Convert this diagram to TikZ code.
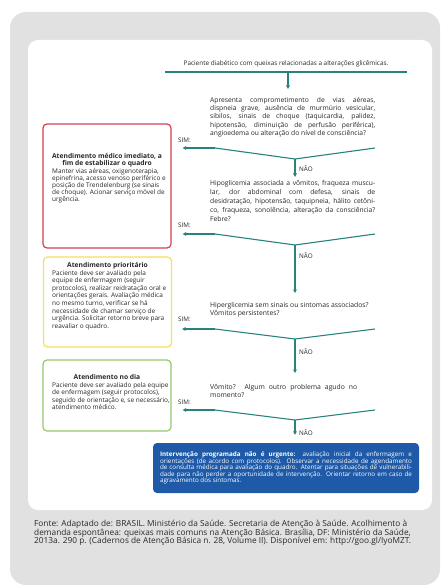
\documentclass[tikz,border=0pt]{standalone}
\usepackage{fontspec}
\setmainfont{Open Sans}
\usetikzlibrary{arrows.meta}
\definecolor{flowteal}{RGB}{40,132,122}
\definecolor{boxred}{RGB}{214,64,80}
\definecolor{boxyellow}{RGB}{244,224,90}
\definecolor{boxgreen}{RGB}{150,200,110}
\definecolor{boxblue}{RGB}{30,90,168}
\definecolor{panelgray}{RGB}{225,225,225}
\definecolor{txt}{RGB}{40,40,40}
\newcommand\jline[2]{\makebox[#1][s]{#2}}
\begin{document}
\begin{tikzpicture}[x=1pt,y=-1pt,
  every node/.style={text=txt},
  conn/.style={draw=flowteal,line width=1.1pt},
  arr/.style={conn,-{Triangle[length=3.5pt,width=3.6pt]}},
  qtext/.style={anchor=north west,inner sep=0pt,align=left,font=\fontsize{6.7}{8.4}\selectfont},
  lbl/.style={anchor=west,inner sep=0pt,font=\fontsize{6.3}{7}\selectfont},
  sidebox/.style={draw=#1,line width=1.2pt,rounded corners=4pt,fill=white,minimum width=128pt,inner sep=0pt},
  boxtitle/.style={anchor=north,inner sep=0pt,align=center,font=\fontsize{6.7}{7.1}\selectfont\bfseries},
  boxbody/.style={anchor=north west,inner sep=0pt,align=left,font=\fontsize{6.45}{7.6}\selectfont}
]
\useasboundingbox (0,0) rectangle (442,585);
\fill[panelgray,rounded corners=16pt] (10,12) rectangle (440,585);
\fill[white,rounded corners=10pt] (28,40) rectangle (432,510);

% top
\node[inner sep=0pt,font=\fontsize{6.4}{7}\selectfont] (t0) at (286,64) {Paciente diabético com queixas relacionadas a alterações glicêmicas.};
\coordinate (l0a) at (165,72);
\coordinate (l0b) at (407,72);
\coordinate (l0m) at (288,72);
\draw[conn] (l0a) -- (l0b);

% questions
\node[qtext,font=\fontsize{6.7}{8.25}\selectfont] (q1) at (210,97) {\jline{165pt}{Apresenta comprometimento de vias aéreas,}\\ \jline{165pt}{dispneia grave, ausência de murmúrio vesicular,}\\ \jline{165pt}{sibilos, sinais de choque (taquicardia, palidez,}\\ \jline{165pt}{hipotensão, diminuição de perfusão periférica),}\\ angioedema ou alteração do nível de consciência?};
\draw[arr] (l0m) -- ([yshift=8pt]l0m |- q1.north);

\node[qtext,font=\fontsize{6.7}{9}\selectfont] (q2) at (210,180) {\jline{165pt}{Hipoglicemia associada a vômitos, fraqueza muscu-}\\ \jline{165pt}{lar, dor abdominal com defesa, sinais de}\\ \jline{165pt}{desidratação, hipotensão, taquipneia, hálito cetôni-}\\ \jline{165pt}{co, fraqueza, sonolência, alteração da consciência?}\\ Febre?};

\node[qtext,font=\fontsize{6.8}{8.2}\selectfont] (q3) at (210,302) {Hiperglicemia sem sinais ou sintomas associados?\\ Vômitos persistentes?};

\node[qtext,font=\fontsize{6.8}{8.2}\selectfont] (q4) at (210,384) {\jline{147pt}{Vômito? Algum outro problema agudo no}\\ momento?};

% side boxes
\node[sidebox=boxred,minimum height=124pt] (red) at (107,186) {};
\node[boxtitle] (redttl) at (107,153) {Atendimento médico imediato, a\\ fim de estabilizar o quadro};
\node[boxbody,font=\fontsize{6.45}{7.2}\selectfont] (redtxt) at (52,168) {Manter vias aéreas, oxigenoterapia,\\ epinefrina, acesso venoso periférico e\\ posição de Trendelenburg (se sinais\\ de choque). Acionar serviço móvel de\\ urgência.};

\node[sidebox=boxyellow,minimum height=90pt] (yel) at (107.5,302) {};
\node[boxtitle] (yelttl) at (107.5,262) {Atendimento prioritário};
\node[boxbody] (yeltxt) at (52,270) {Paciente deve ser avaliado pela\\ equipe de enfermagem (seguir\\ protocolos), realizar reidratação oral e\\ orientações gerais. Avaliação médica\\ no mesmo turno, verificar se há\\ necessidade de chamar serviço de\\ urgência. Solicitar retorno breve para\\ reavaliar o quadro.};

\node[sidebox=boxgreen,minimum height=71pt] (grn) at (107,395.5) {};
\node[boxtitle] (grnttl) at (107,374) {Atendimento no dia};
\node[boxbody] (grntxt) at (52,382) {Paciente deve ser avaliado pela equipe\\ de enfermagem (seguir protocolos),\\ seguido de orientação e, se necessário,\\ atendimento médico.};

% blue box
\node[fill=boxblue,rounded corners=4pt,minimum width=266pt,minimum height=50pt,inner xsep=7pt,align=left,text=white,font=\fontsize{6.3}{6.5}\selectfont] (blue) at (286,468) {\jline{252pt}{\textbf{Intervenção programada não é urgente:} avaliação inicial da enfermagem e}\\ \jline{252pt}{orientações (de acordo com protocolos). Observar a necessidade de agendamento}\\ \jline{252pt}{de consulta médica para avaliação do quadro. Atentar para situações de vulnerabili-}\\ \jline{252pt}{dade para não perder a oportunidade de intervenção. Orientar retorno em caso de}\\ agravamento dos sintomas.};

% V connectors
\coordinate (v1l) at (215,148);
\coordinate (v1b) at (295,159);
\coordinate (v1r) at (375,148);
\coordinate (s1) at ([xshift=11pt]red.east |- v1l);
\draw[conn] (v1r) -- (v1b) -- (v1l);
\draw[arr] (v1l) -- (s1);
\draw[arr] (v1b) -- ([yshift=3pt]v1b |- q2.north);
\node[lbl] (sim1) at (178,140) {SIM:};
\node[lbl] (nao1) at (299,169) {NÃO};

\coordinate (v2l) at (215,234);
\coordinate (v2b) at (295,245);
\coordinate (v2r) at (375,234);
\coordinate (s2) at ([xshift=11pt]red.east |- v2l);
\draw[conn] (v2r) -- (v2b) -- (v2l);
\draw[arr] (v2l) -- (s2);
\draw[arr] (v2b) -- ([yshift=9pt]v2b |- q3.north);
\node[lbl] (sim2) at (178,225) {SIM:};
\node[lbl] (nao2) at (299,256) {NÃO};

\coordinate (v3l) at (215,329);
\coordinate (v3b) at (295,339);
\coordinate (v3r) at (375,329);
\coordinate (s3) at ([xshift=10pt]yel.east |- v3l);
\draw[conn] (v3r) -- (v3b) -- (v3l);
\draw[arr] (v3l) -- (s3);
\draw[arr] (v3b) -- ([yshift=11pt]v3b |- q4.north);
\node[lbl] (sim3) at (178,319) {SIM:};
\node[lbl] (nao3) at (299,352) {NÃO};

\coordinate (v4l) at (215,410);
\coordinate (v4b) at (295,420);
\coordinate (v4r) at (375,410);
\coordinate (s4) at ([xshift=11pt]grn.east |- v4l);
\draw[conn] (v4r) -- (v4b) -- (v4l);
\draw[arr] (v4l) -- (s4);
\draw[arr] (v4b) -- ([yshift=8pt]v4b |- blue.north);
\node[lbl] (sim4) at (178,402) {SIM:};
\node[lbl] (nao4) at (299,433) {NÃO};

% footer
\node[anchor=north west,inner sep=0pt,align=left,font=\fontsize{8.3}{8.6}\selectfont] (foot) at (34,520) {Fonte: Adaptado de: BRASIL. Ministério da Saúde. Secretaria de Atenção à Saúde. Acolhimento à\\ demanda espontânea: queixas mais comuns na Atenção Básica. Brasília, DF: Ministério da Saúde,\\ 2013a. 290 p. (Cadernos de Atenção Básica n. 28, Volume II). Disponível em: http://goo.gl/IyoMZT.};
\end{tikzpicture}
\end{document}
